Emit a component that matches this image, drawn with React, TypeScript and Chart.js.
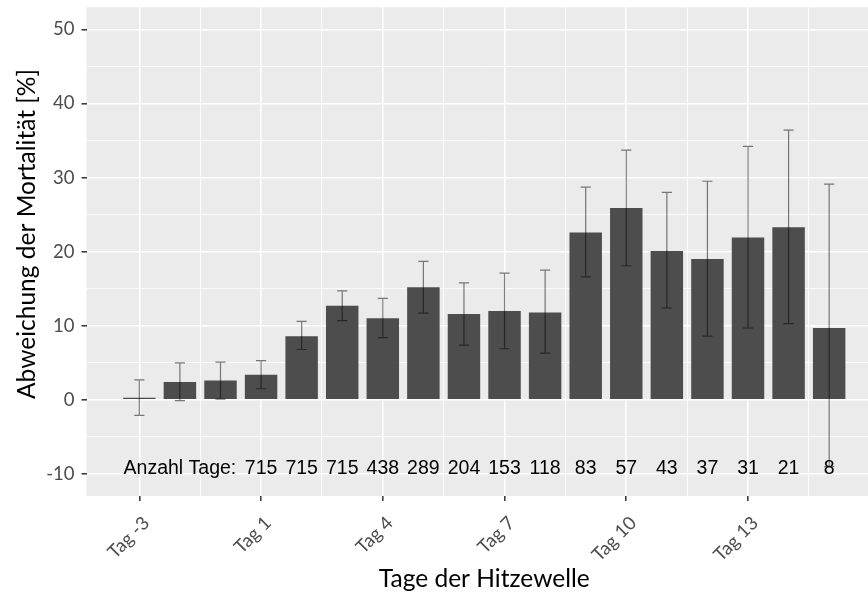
import React, { useEffect, useRef } from "react";
import { Chart, registerables } from "chart.js";

Chart.register(...registerables);

const categories = [
  "Tag -3", "Tag -2", "Tag -1", "Tag 1", "Tag 2", "Tag 3", "Tag 4", "Tag 5", "Tag 6",
  "Tag 7", "Tag 8", "Tag 9", "Tag 10", "Tag 11", "Tag 12", "Tag 13", "Tag 14", "Tag 15",
];
const values = [0.3, 2.4, 2.6, 3.4, 8.6, 12.7, 11.0, 15.2, 11.6, 12.0, 11.8, 22.6, 25.9, 20.1, 19.0, 21.9, 23.3, 9.7];
const lower = [-2.1, -0.1, 0.1, 1.5, 6.8, 10.7, 8.4, 11.7, 7.4, 6.9, 6.3, 16.6, 18.1, 12.4, 8.6, 9.7, 10.3, -9.0];
const upper = [2.7, 5.0, 5.1, 5.3, 10.6, 14.7, 13.7, 18.7, 15.8, 17.1, 17.5, 28.7, 33.7, 28.0, 29.5, 34.2, 36.4, 29.1];
const countLabels = ["", "Anzahl Tage:", "", "715", "715", "715", "438", "289", "204", "153", "118", "83", "57", "43", "37", "31", "21", "8"];
const countLabelY = -10;
const xMajorTicks = [0, 3, 6, 9, 12, 15];
const xMinorTicks = [1.5, 4.5, 7.5, 10.5, 13.5, 16.5];
const yMajorTicks = [-10, 0, 10, 20, 30, 40, 50];
const yMinorTicks = [-5, 5, 15, 25, 35, 45];
const xTitle = "Tage der Hitzewelle";
const yTitle = "Abweichung der Mortalität [%]";

const isMajor = (v: number, majors: number[]) => majors.some((m) => Math.abs(m - v) < 1e-6);

export default function App() {
  const ref = useRef<HTMLCanvasElement | null>(null);
  useEffect(() => {
    if (!ref.current) return;
    const panelBg = {
      id: "panelBg",
      beforeDraw(chart: any) {
        const { ctx, chartArea: a } = chart;
        ctx.save();
        ctx.fillStyle = "#EBEBEB";
        ctx.fillRect(a.left, a.top, a.right - a.left, a.bottom - a.top);
        ctx.restore();
      },
    };
    const overlay = {
      id: "overlay",
      afterDatasetsDraw(chart: any) {
        const { ctx } = chart;
        const xs = chart.scales.x;
        const ys = chart.scales.y;
        ctx.save();
        ctx.strokeStyle = "rgba(0,0,0,0.5)";
        ctx.lineWidth = 1.2;
        for (let i = 0; i < values.length; i++) {
          const x = xs.getPixelForValue(i);
          const half = (xs.getPixelForValue(i + 0.125) - xs.getPixelForValue(i - 0.125)) / 2;
          const yl = ys.getPixelForValue(lower[i]);
          const yu = ys.getPixelForValue(upper[i]);
          ctx.beginPath();
          ctx.moveTo(x, yl);
          ctx.lineTo(x, yu);
          ctx.moveTo(x - half, yl);
          ctx.lineTo(x + half, yl);
          ctx.moveTo(x - half, yu);
          ctx.lineTo(x + half, yu);
          ctx.stroke();
        }
        ctx.fillStyle = "#000000";
        ctx.font = "19.5px 'Liberation Sans', Arial, sans-serif";
        ctx.textAlign = "center";
        ctx.textBaseline = "alphabetic";
        const ty = ys.getPixelForValue(countLabelY);
        for (let i = 0; i < countLabels.length; i++) {
          if (!countLabels[i]) continue;
          ctx.fillText(countLabels[i], xs.getPixelForValue(i), ty);
        }
        ctx.restore();
      },
      afterDraw(chart: any) {
        const { ctx, chartArea: a } = chart;
        ctx.save();
        ctx.fillStyle = "#000000";
        ctx.font = "24.5px Lato, sans-serif";
        ctx.textAlign = "center";
        ctx.textBaseline = "alphabetic";
        ctx.fillText(xTitle, (a.left + a.right) / 2, 587);
        ctx.translate(35, 234);
        ctx.rotate(-Math.PI / 2);
        ctx.fillText(yTitle, 0, 0);
        ctx.restore();
      },
    };
    const chart = new Chart(ref.current, {
      type: "bar",
      data: {
        datasets: [
          {
            data: values.map((v, i) => ({ x: i, y: v })),
            backgroundColor: "#4D4D4D",
            borderWidth: 0,
            categoryPercentage: 1,
            barPercentage: 0.8,
          },
        ],
      },
      options: {
        animation: false,
        responsive: false,
        devicePixelRatio: 1,
        layout: { padding: { top: 7.3, left: 0, right: 0, bottom: 0 } },
        plugins: { legend: { display: false }, tooltip: { enabled: false } },
        scales: {
          x: {
            type: "linear",
            offset: false,
            min: -1.302,
            max: 18.302,
            afterBuildTicks(scale: any) {
              scale.ticks = [...xMajorTicks, ...xMinorTicks].sort((p, q) => p - q).map((v) => ({ value: v }));
            },
            afterFit(scale: any) {
              scale.height = 96;
              scale.paddingLeft = 0;
              scale.paddingRight = 0;
            },
            border: { display: false },
            grid: {
              offset: false,
              color: "#FFFFFF",
              lineWidth: (c: any) => (isMajor(c.tick?.value, xMajorTicks) ? 1.6 : 0.8),
              tickColor: (c: any) => (isMajor(c.tick?.value, xMajorTicks) ? "#333333" : "rgba(0,0,0,0)"),
              tickLength: 5,
              tickWidth: 1.5,
            },
            ticks: {
              autoSkip: false,
              minRotation: 45,
              maxRotation: 45,
              padding: 11,
              labelOffset: 7,
              color: "#4D4D4D",
              font: { family: "Lato", size: 18.5 },
              callback: (v: any) => (isMajor(v, xMajorTicks) ? categories[Math.round(v)] : ""),
            },
          },
          y: {
            type: "linear",
            min: -12.97,
            max: 52.97,
            afterBuildTicks(scale: any) {
              scale.ticks = [...yMajorTicks, ...yMinorTicks].sort((p, q) => p - q).map((v) => ({ value: v }));
            },
            afterFit(scale: any) {
              scale.width = 86.5;
              scale.paddingTop = 0;
              scale.paddingBottom = 0;
            },
            border: { display: false },
            grid: {
              color: "#FFFFFF",
              lineWidth: (c: any) => (isMajor(c.tick?.value, yMajorTicks) ? 1.6 : 0.8),
              tickColor: (c: any) => (isMajor(c.tick?.value, yMajorTicks) ? "#333333" : "rgba(0,0,0,0)"),
              tickLength: 5,
              tickWidth: 1.5,
            },
            ticks: {
              padding: 7,
              color: "#4D4D4D",
              font: { family: "Lato", size: 18.5 },
              callback: (v: any) => (isMajor(v, yMajorTicks) ? String(v) : ""),
            },
          },
        },
      },
      plugins: [panelBg, overlay],
    } as any);
    return () => chart.destroy();
  }, []);
  return (
    <div style={{ position: "fixed", left: 0, top: 0, width: 868, height: 592, overflow: "hidden", background: "#FFFFFF" }}>
      <canvas ref={ref} width={882} height={592} style={{ width: 882, height: 592, display: "block" }} />
    </div>
  );
}
